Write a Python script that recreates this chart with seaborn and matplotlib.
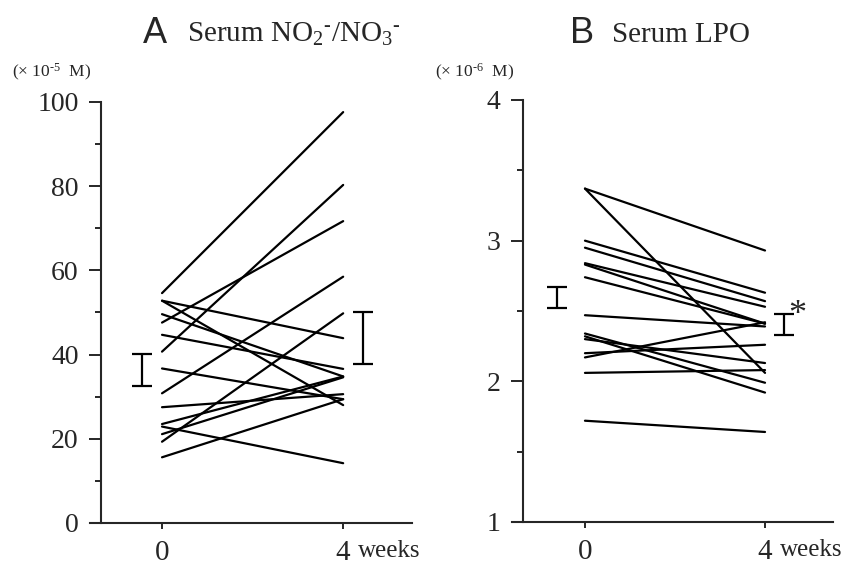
import pandas as pd
import matplotlib
matplotlib.use("Agg")
import matplotlib.pyplot as plt
import seaborn as sns

# Panel A: serum NO2-/NO3- (x10^-5 M), each subject at week 0 and week 4
no_week0 = [54.6, 52.8, 52.8, 49.6, 47.6, 44.7, 40.7, 36.7, 30.8, 27.5, 23.5, 22.9, 21.1, 19.3, 15.6]
no_week4 = [97.6, 43.9, 28.0, 34.8, 71.7, 36.6, 80.3, 29.4, 58.5, 30.6, 34.8, 14.2, 34.6, 49.8, 29.4]
no_mean = [36.3, 44.0]
no_se = [3.8, 6.2]

# Panel B: serum LPO (x10^-6 M)
lpo_week0 = [3.37, 3.37, 3.00, 2.95, 2.84, 2.83, 2.74, 2.47, 2.34, 2.32, 2.30, 2.20, 2.17, 2.06, 1.72]
lpo_week4 = [2.93, 2.06, 2.63, 2.57, 2.53, 2.41, 2.41, 2.39, 1.99, 1.92, 2.13, 2.26, 2.42, 2.08, 1.64]
lpo_mean = [2.595, 2.405]
lpo_se = [0.075, 0.075]

weeks = [0, 4]
week_labels = ["0", "4"]


def long_table(w0, w4):
    n = len(w0)
    return pd.DataFrame({
        "subject": list(range(n)) * 2,
        "week": [weeks[0]] * n + [weeks[1]] * n,
        "value": w0 + w4,
    })


sns.set_style("ticks")
plt.rcParams["font.family"] = ["Liberation Serif", "DejaVu Serif"]
plt.rcParams["mathtext.fontset"] = "custom"
plt.rcParams["mathtext.rm"] = "Liberation Serif"
plt.rcParams["mathtext.it"] = "Liberation Serif:italic"

fig = plt.figure(figsize=(8.5, 5.74), dpi=100)
axA = fig.add_axes([0.1059, 0.0889, 0.3788, 0.7334])
axB = fig.add_axes([0.6024, 0.0906, 0.3776, 0.7352])

panels = [
    (axA, long_table(no_week0, no_week4), no_mean, no_se, [-0.44, 4.44],
     (-1.59, 5.52), -1.35, (0, 100), range(0, 101, 20), range(10, 100, 20)),
    (axB, long_table(lpo_week0, lpo_week4), lpo_mean, lpo_se, [-0.62, 4.42],
     (-1.62, 5.51), -1.38, (1, 4), [1, 2, 3, 4], [1.5, 2.5, 3.5]),
]

for ax, df, mean, se, bar_x, xlim, spine_x, ylim, major, minor in panels:
    sns.lineplot(data=df, x="week", y="value", units="subject", estimator=None,
                 color="black", linewidth=1.6, ax=ax)
    ax.errorbar(bar_x, mean, yerr=se, fmt="none", ecolor="black",
                elinewidth=1.6, capsize=7, capthick=1.6)
    ax.set_xlim(*xlim)
    ax.set_ylim(*ylim)
    ax.spines["top"].set_visible(False)
    ax.spines["right"].set_visible(False)
    ax.spines["left"].set_position(("data", spine_x))
    ax.spines["left"].set_linewidth(1.5)
    ax.spines["bottom"].set_linewidth(1.5)
    ax.set_xticks(weeks)
    ax.set_xticklabels(week_labels)
    ax.set_yticks(list(major))
    ax.set_yticks(list(minor), minor=True)
    ax.tick_params(axis="y", which="major", length=9, width=1.4, labelsize=20, pad=7)
    ax.tick_params(axis="y", which="minor", length=4.5, width=1.4)
    ax.tick_params(axis="x", length=4.5, width=1.4, labelsize=21, pad=8)
    ax.set_xlabel("")
    ax.set_ylabel("")
    ax.annotate("weeks", xy=(weeks[1], 0), xycoords=("data", "axes fraction"),
                xytext=(10.5, -12.5), textcoords="offset points",
                ha="left", va="top", fontsize=18)

axB.text(4.72, 2.41, "*", fontsize=26, ha="center", va="baseline")

# titles and unit labels
fig.text(143 / 850, 1 - 43 / 574, "A", family="Liberation Sans", fontsize=26, va="baseline")
fig.text(187 / 850, 1 - 42 / 574, "Serum NO$_{2}{}^{\u2010}$/NO$_{3}{}^{\u2010}$", fontsize=21, va="baseline")
fig.text(570 / 850, 1 - 43 / 574, "B", family="Liberation Sans", fontsize=26, va="baseline")
fig.text(612 / 850, 1 - 42 / 574, "Serum LPO", fontsize=21, va="baseline")
fig.text(12 / 850, 1 - 77 / 574, "(× 10$^{\u2010 5}$  M)", fontsize=12.5, va="baseline")
fig.text(435 / 850, 1 - 77 / 574, "(× 10$^{\u2010 6}$  M)", fontsize=12.5, va="baseline")

fig.savefig("out.png", dpi=100)
